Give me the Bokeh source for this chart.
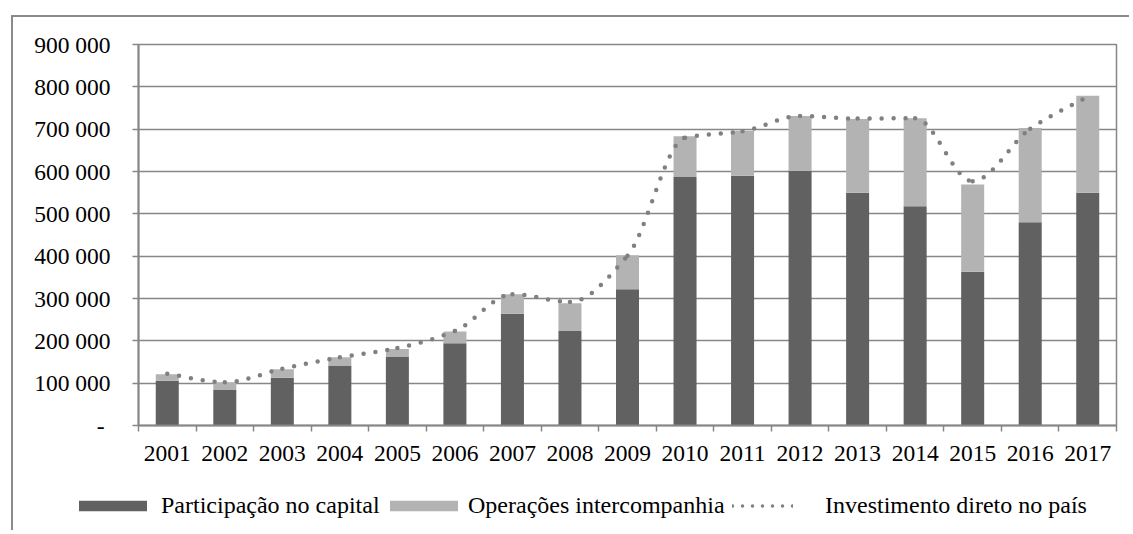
from bokeh.plotting import figure
from bokeh.models import ColumnDataSource, Range1d, FixedTicker, Legend, LegendItem
from bokeh.embed import file_html
from bokeh.resources import INLINE

years = ["2001", "2002", "2003", "2004", "2005", "2006", "2007", "2008", "2009",
         "2010", "2011", "2012", "2013", "2014", "2015", "2016", "2017"]
participacao = [106000, 84000, 113000, 142000, 162000, 194000, 264000, 223000, 322000,
                587000, 590000, 602000, 550000, 518000, 363000, 480000, 550000]
intercompanhia = [15000, 18000, 20000, 19000, 19000, 28000, 46000, 66000, 80000,
                  96000, 106000, 129000, 174000, 208000, 206000, 223000, 229000]
idp = [122000, 102000, 134000, 161000, 183000, 223000, 310000, 292000, 401000,
       680000, 695000, 731000, 725000, 726000, 577000, 701000, 777000]
y_ticks = [0, 100000, 200000, 300000, 400000, 500000, 600000, 700000, 800000, 900000]
y_labels = ["-\u00a0", "100 000", "200 000", "300 000", "400 000", "500 000",
            "600 000", "700 000", "800 000", "900 000"]
series_names = ["Participação no capital", "Operações intercompanhia",
                "Investimento direto no país"]

DARK = "#616161"
LIGHT = "#b3b3b3"
DOT = "#808080"
GRID = "#878787"
FONT = "Liberation Serif"
FS = "23.5px"
LFS = "24px"

n = len(years)
xs = [i + 0.5 for i in range(n)]
src = ColumnDataSource(dict(x=xs, part=participacao, inter=intercompanhia))

p = figure(width=1118, height=458, x_range=Range1d(0, n), y_range=Range1d(0, 900000),
           output_backend="svg", toolbar_location=None,
           min_border_left=125, min_border_right=15, min_border_top=27, min_border_bottom=50)
p.styles = {"border-top": "2px solid #8a8a8a", "border-left": "2px solid #8a8a8a",
            "margin-left": "11px", "margin-top": "15px"}

bars = p.vbar_stack(["part", "inter"], x="x", width=0.4, color=[DARK, LIGHT],
                    line_color=None, source=src)

# smoothed line: monotone cubic Bezier segments between the data points
d = [idp[k + 1] - idp[k] for k in range(n - 1)]
m = [d[0]]
for k in range(1, n - 1):
    if d[k - 1] * d[k] <= 0:
        m.append(0.0)
    else:
        m.append(2.0 / (1.0 / d[k - 1] + 1.0 / d[k]))
m.append(d[-1])
p.bezier(x0=xs[:-1], y0=idp[:-1], x1=xs[1:], y1=idp[1:],
         cx0=[xs[k] + 1 / 3 for k in range(n - 1)],
         cy0=[idp[k] + m[k] / 3 for k in range(n - 1)],
         cx1=[xs[k + 1] - 1 / 3 for k in range(n - 1)],
         cy1=[idp[k + 1] - m[k + 1] / 3 for k in range(n - 1)],
         line_color=DOT, line_width=4.5, line_dash="0 12", line_cap="round")

# axes
p.yaxis.ticker = FixedTicker(ticks=y_ticks, minor_ticks=[])
p.yaxis.major_label_overrides = {t: l for t, l in zip(y_ticks, y_labels)}
p.xaxis.ticker = FixedTicker(ticks=xs, minor_ticks=list(range(n + 1)))
p.xaxis.major_label_overrides = {x: y for x, y in zip(xs, years)}

for ax in (p.xaxis[0], p.yaxis[0]):
    ax.axis_line_color = GRID
    ax.axis_line_width = 2
    ax.major_label_text_font = FONT
    ax.major_label_text_font_size = FS
    ax.major_label_text_color = "black"
    ax.major_tick_line_color = GRID
    ax.major_tick_line_width = 1.5
    ax.minor_tick_line_color = GRID
    ax.minor_tick_line_width = 1.5

p.yaxis.major_tick_out = 6
p.yaxis.major_tick_in = 0
p.yaxis.major_label_standoff = 22
p.xaxis.major_tick_out = 0
p.xaxis.major_tick_in = 0
p.xaxis.minor_tick_out = 6
p.xaxis.minor_tick_in = 0
p.xaxis.major_label_standoff = 14

p.xgrid.visible = False
p.ygrid.grid_line_color = GRID
p.ygrid.grid_line_width = 1.3
p.outline_line_color = GRID
p.outline_line_width = 1.5
p.background_fill_color = "white"
p.border_fill_color = "white"

# legend strip (separate root so the legend can sit left of the plot frame)
lg = figure(width=1118, height=57, x_range=Range1d(0, 1), y_range=Range1d(0, 1),
            output_backend="svg", toolbar_location=None, x_axis_type=None, y_axis_type=None,
            min_border_left=0, min_border_right=0, min_border_top=0, min_border_bottom=0)
lg.styles = {"border-left": "2px solid #8a8a8a", "margin-left": "11px"}
lg.grid.visible = False
lg.outline_line_color = None
lg.background_fill_color = "white"
lg.border_fill_color = "white"
# swatch renderers for the legend (zero-size / out of view, only their styles are used)
r_dark = lg.vbar(x=[0.5], top=[0], bottom=[0], width=0, color=DARK, line_color=None)
r_light = lg.vbar(x=[0.5], top=[0], bottom=[0], width=0, color=LIGHT, line_color=None)
r_line = lg.line(x=[5, 6], y=[5, 5], line_color=DOT, line_width=3.5, line_dash="0 10",
                 line_cap="round")

common = dict(orientation="horizontal", glyph_height=13, padding=0, margin=0, spacing=0,
              border_line_color=None, background_fill_alpha=0,
              label_text_font=FONT, label_text_font_size=LFS, label_text_color="black")
leg1 = Legend(items=[LegendItem(label=series_names[0], renderers=[r_dark])],
              location=(57, 11), glyph_width=85, label_standoff=6, **common)
leg2 = Legend(items=[LegendItem(label=series_names[1], renderers=[r_light])],
              location=(368, 11), glyph_width=85, label_standoff=2, **common)
leg3 = Legend(items=[LegendItem(label=series_names[2], renderers=[r_line])],
              location=(719, 11), glyph_width=61, label_standoff=32, **common)
for lgd in (leg1, leg2, leg3):
    lg.add_layout(lgd, "center")

open("out.html", "w").write(file_html([p, lg], INLINE))
